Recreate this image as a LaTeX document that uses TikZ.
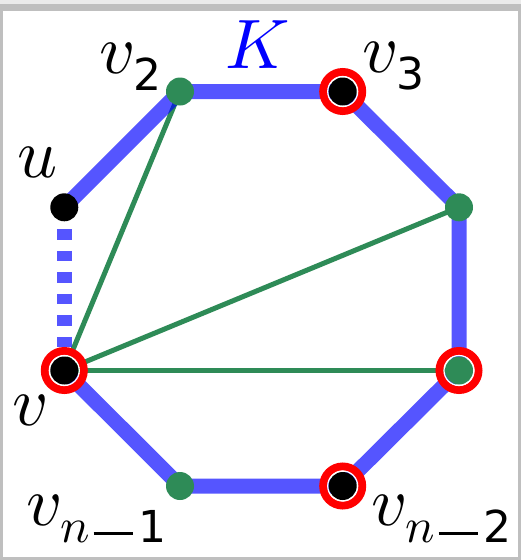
\documentclass[tikz,border=0pt]{standalone}
\usepackage{amsmath}
\usepackage{fontspec}
\usepackage{unicode-math}
\setmathfont{Latin Modern Math}
\newfontfamily\dvsans{DejaVu Sans}
\newcommand{\dg}[1]{\text{\dvsans\fontsize{44}{44}\selectfont #1}}
\newcommand{\longminus}{\text{\hspace{4pt}\rule[7.5pt]{39pt}{3.2pt}\hspace{6pt}}}
\definecolor{sgreen}{RGB}{46,139,87}
\begin{document}
\begin{tikzpicture}[x=1pt,y=-1pt,
  blueedge/.style={draw=blue, draw opacity=0.667, line width=15pt, line join=round},
  greenedge/.style={draw=sgreen, line width=5pt},
  gdot/.style={circle, fill=sgreen, inner sep=0pt, minimum size=28pt},
  bdot/.style={circle, fill=black, inner sep=0pt, minimum size=28pt},
  ring/.style={circle, draw=red, line width=8pt, inner sep=0pt, minimum size=39pt},
  gap/.style={circle, draw=white, line width=1.2pt, inner sep=0pt, minimum size=30pt},
  lbl/.style={inner sep=0pt, anchor=base west, font=\fontsize{70}{84}\selectfont}]
\useasboundingbox (0,0) rectangle (521,560);
% frame
\fill[black!8] (0,0) rectangle (521,4);
\fill[black!25] (0,4) rectangle (521,560);
\fill[white] (3.3,10.7) rectangle (517.5,556.5);
% vertex positions
\coordinate (u)   at (64.3,207.3);
\coordinate (v2)  at (180,91.5);
\coordinate (v3)  at (342.7,91.5);
\coordinate (rt)  at (459,207.3);
\coordinate (rb)  at (459,370.5);
\coordinate (vn2) at (342.7,486);
\coordinate (vn1) at (180,486);
\coordinate (v)   at (64.3,370.5);
% green chords
\draw[greenedge] (v) -- (v2);
\draw[greenedge] (v) -- (rt);
\draw[greenedge] (v) -- (rb);
% blue path K
\draw[blueedge] (u) -- (v2) -- (v3) -- (rt) -- (rb) -- (vn2) -- (vn1) -- (v);
\draw[blueedge, dash pattern=on 10.5pt off 11pt, shorten <=22pt, shorten >=23.5pt] (u) -- (v);
% rings
\foreach \p in {v3,rb,vn2,v} {
  \node[ring] (ring-\p) at (\p) {};
  \node[gap] (gap-\p) at (\p) {};
}
% dots
\node[bdot] (du)   at (u) {};
\node[gdot] (dv2)  at (v2) {};
\node[bdot] (dv3)  at (v3) {};
\node[gdot] (drt)  at (rt) {};
\node[gdot] (drb)  at (rb) {};
\node[bdot] (dvn2) at (vn2) {};
\node[gdot] (dvn1) at (vn1) {};
\node[bdot] (dv)   at (v) {};
% labels
\node[lbl, text=blue, anchor=base] (lK) at (258,68) {$K$};
\node[lbl] (lv2) at (99,73) {$v_{\dg{2}}$};
\node[lbl] (lv3) at (362,72) {$v_{\dg{3}}$};
\node[lbl] (lu) at (17,177) {$u$};
\node[lbl] (lv) at (12,425) {$v$};
\node[lbl] (lvn1) at (26,525) {$v_{n\longminus\dg{1}}$};
\node[lbl] (lvn2) at (371,525) {$v_{n\longminus\dg{2}}$};
\end{tikzpicture}
\end{document}
